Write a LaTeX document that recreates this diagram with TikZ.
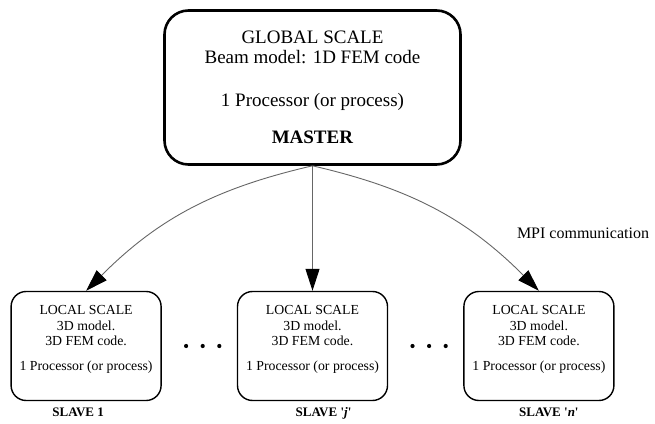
\documentclass[tikz,border=0pt]{standalone}
\usepackage{fontspec}
\setmainfont{Liberation Serif}
\usetikzlibrary{positioning,arrows.meta}

\begin{document}
\begin{tikzpicture}[x=1pt, y=1pt, node distance=75pt,
	global/.style = {draw, line width=2.6pt, rounded corners=24pt, minimum width=296pt, minimum height=154pt, inner sep=0pt, align=center, font=\fontsize{19}{20}\selectfont},
	local/.style = {draw, line width=1.4pt, rounded corners=15pt, minimum width=150pt, minimum height=109pt, inner sep=0pt, align=center, font=\fontsize{13.8}{15.5}\selectfont},
	tag/.style = {inner sep=0pt, font=\fontsize{13}{15}\selectfont\bfseries},
	dot/.style = {circle, fill, inner sep=0pt, minimum size=4.2pt},
	link/.style = {draw=black!60, line width=0.9pt, -{Triangle[length=22pt, width=14pt, color=black]}}]
	\useasboundingbox (0,0) rectangle (655,423);
	\node[global] (0) at (312.5,335.5) {GLOBAL SCALE\\Beam model: 1D FEM code\\[23pt]1 Processor (or process)\\[17pt]\textbf{MASTER}};
	\node[local] (2) [below=125pt of 0] {LOCAL SCALE\\3D model.\\3D FEM code.\\[9.5pt]1 Processor (or process)\rule[-16pt]{0pt}{16pt}};
	\node[local] (1) [left=of 2] {LOCAL SCALE\\3D model.\\3D FEM code.\\[9.5pt]1 Processor (or process)\rule[-16pt]{0pt}{16pt}};
	\node[local] (3) [right=of 2] {LOCAL SCALE\\3D model.\\3D FEM code.\\[9.5pt]1 Processor (or process)\rule[-16pt]{0pt}{16pt}};
	\node[tag, xshift=-8pt] (t1) [below=6pt of 1] {SLAVE 1};
	\node[tag, xshift=11pt] (t2) [below=6pt of 2] {SLAVE \textquotesingle\textit{j}\textquotesingle};
	\node[tag, xshift=10pt] (t3) [below=6pt of 3] {SLAVE \textquotesingle\textit{n}\textquotesingle};
	\node[dot] (a1) [right=22pt of 1] {};
	\node[dot] (a2) [right=12pt of a1] {};
	\node[dot] (a3) [right=12pt of a2] {};
	\node[dot] (b1) [right=22pt of 2] {};
	\node[dot] (b2) [right=12pt of b1] {};
	\node[dot] (b3) [right=12pt of b2] {};
	\node[anchor=base, font=\fontsize{16}{18}\selectfont] (mpi) at (583,184) {MPI communication};
	\draw[link] (0.south) -- (2.north);
	\draw[link] (0.south) to [out=193, in=45] (1.north);
	\draw[link] (0.south) to [out=-13, in=135] (3.north);
\end{tikzpicture}
\end{document}
